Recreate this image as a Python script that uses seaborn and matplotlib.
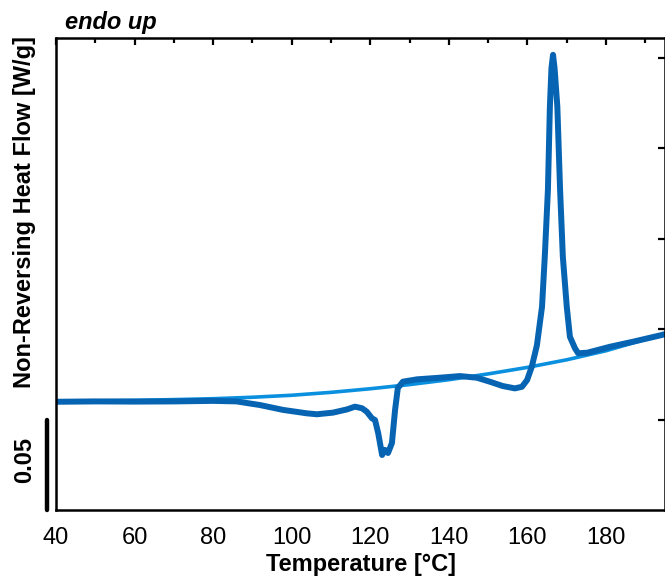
import matplotlib
matplotlib.use("Agg")
import matplotlib.pyplot as plt
import matplotlib.transforms as mtransforms
import seaborn as sns
import pandas as pd

# ---- data ----
sample_T = [40, 50, 60, 70, 80, 86, 88.6, 91.9, 97.8, 103.9, 106.4, 110.5, 114.1,
            116.1, 117.9, 119.1, 120.4, 121.2, 122.0, 123.0, 123.7, 124.5, 125.5,
            126.3, 127.0, 128.3, 131.9, 137.7, 142.8, 147.1, 150.4, 153.7, 156.8,
            158.6, 159.9, 161.1, 162.4, 163.7, 164.4, 165.2, 165.7, 166.1, 166.5,
            166.9, 167.6, 168.3, 169.0, 170.0, 170.8, 172.1, 172.9, 175.2, 181.0,
            186.9, 194.2, 195.0]
sample_flow = [0.0598, 0.0600, 0.0599, 0.0600, 0.0603, 0.0600, 0.0591, 0.0580, 0.0553,
               0.0534, 0.0529, 0.0538, 0.0556, 0.0571, 0.0562, 0.0543, 0.0507, 0.0497,
               0.0425, 0.0304, 0.0332, 0.0315, 0.0370, 0.0553, 0.0674, 0.0709, 0.0722,
               0.0731, 0.0740, 0.0731, 0.0709, 0.0685, 0.0672, 0.0681, 0.0718, 0.0792,
               0.0910, 0.1123, 0.1399, 0.1768, 0.2228, 0.2440, 0.2515, 0.2440, 0.2228,
               0.1768, 0.1399, 0.1123, 0.0957, 0.0893, 0.0866, 0.0869, 0.0902, 0.0930,
               0.0967, 0.0972]

baseline_T = [40, 50, 60, 70, 80, 90, 100, 110, 120, 130, 140, 150, 160, 170, 180, 190, 195]
baseline_flow = [0.0600, 0.0603, 0.0606, 0.0610, 0.0615, 0.0623, 0.0634, 0.0650, 0.0670,
                 0.0693, 0.0720, 0.0752, 0.0788, 0.0830, 0.0880, 0.0943, 0.0972]

x_ticks = [40, 60, 80, 100, 120, 140, 160, 180]
scale_bar = 0.05

dark_blue = "#0664b2"
light_blue = "#0a90de"

sns.set_style("white")
plt.rcParams["font.family"] = ["Liberation Sans", "DejaVu Sans"]
plt.rcParams["text.color"] = "black"
plt.rcParams["axes.labelcolor"] = "black"
plt.rcParams["xtick.color"] = "black"
plt.rcParams["ytick.color"] = "black"

fig = plt.figure(figsize=(6.65, 5.83), dpi=100)
ax = fig.add_axes([56 / 665, 73 / 583, 609 / 665, 472 / 583])

df_base = pd.DataFrame({"T": baseline_T, "flow": baseline_flow})
df_samp = pd.DataFrame({"T": sample_T, "flow": sample_flow})

sns.lineplot(data=df_base, x="T", y="flow", ax=ax, color=light_blue, lw=2.6,
             estimator=None, sort=False)
sns.lineplot(data=df_samp, x="T", y="flow", ax=ax, color=dark_blue, lw=4.3,
             estimator=None, sort=False, solid_capstyle="round", solid_joinstyle="round")

ax.set_xlim(40, 195)
ax.set_ylim(0, 0.2608)
ax.set_xticks(x_ticks)
ax.set_xticks(range(50, 195, 10), minor=True)
ax.set_yticks([0.05, 0.10, 0.15, 0.20, 0.25])
ax.set_yticklabels([])

for s in ax.spines.values():
    s.set_linewidth(1.8)
    s.set_color("black")

ax.tick_params(axis="both", which="both", direction="in", top=True, right=True,
               width=1.6, color="black", labelcolor="black")
ax.tick_params(axis="x", which="major", length=5, labelsize=17, pad=12)
ax.tick_params(axis="x", which="minor", length=3.5)
ax.tick_params(axis="y", which="major", length=5)

ax.set_xlabel("Temperature [°C]", fontsize=17, fontweight="bold", labelpad=3,
              color="black")
ax.set_ylabel("")

fig.text(25 / 665, 1 - 212 / 583, "Non-Reversing Heat Flow [W/g]", rotation=90,
         fontsize=17, fontweight="bold", ha="center", va="center", color="black")
fig.text(65 / 665, 1 - 22 / 583, "endo up", fontsize=17, fontweight="bold",
         style="italic", ha="left", va="center", color="black")

# scale bar (0.05 W/g) drawn in data units on the y axis
trans = mtransforms.blended_transform_factory(ax.transAxes, ax.transData)
ax.plot([-9 / 609, -9 / 609], [0, scale_bar], transform=trans, color="black",
        lw=3.2, clip_on=False, solid_capstyle="round")
fig.text(25 / 665, 1 - 460 / 583, "0.05", rotation=90, fontsize=17,
         fontweight="bold", ha="center", va="center", color="black")

fig.savefig("out.png", dpi=100)
